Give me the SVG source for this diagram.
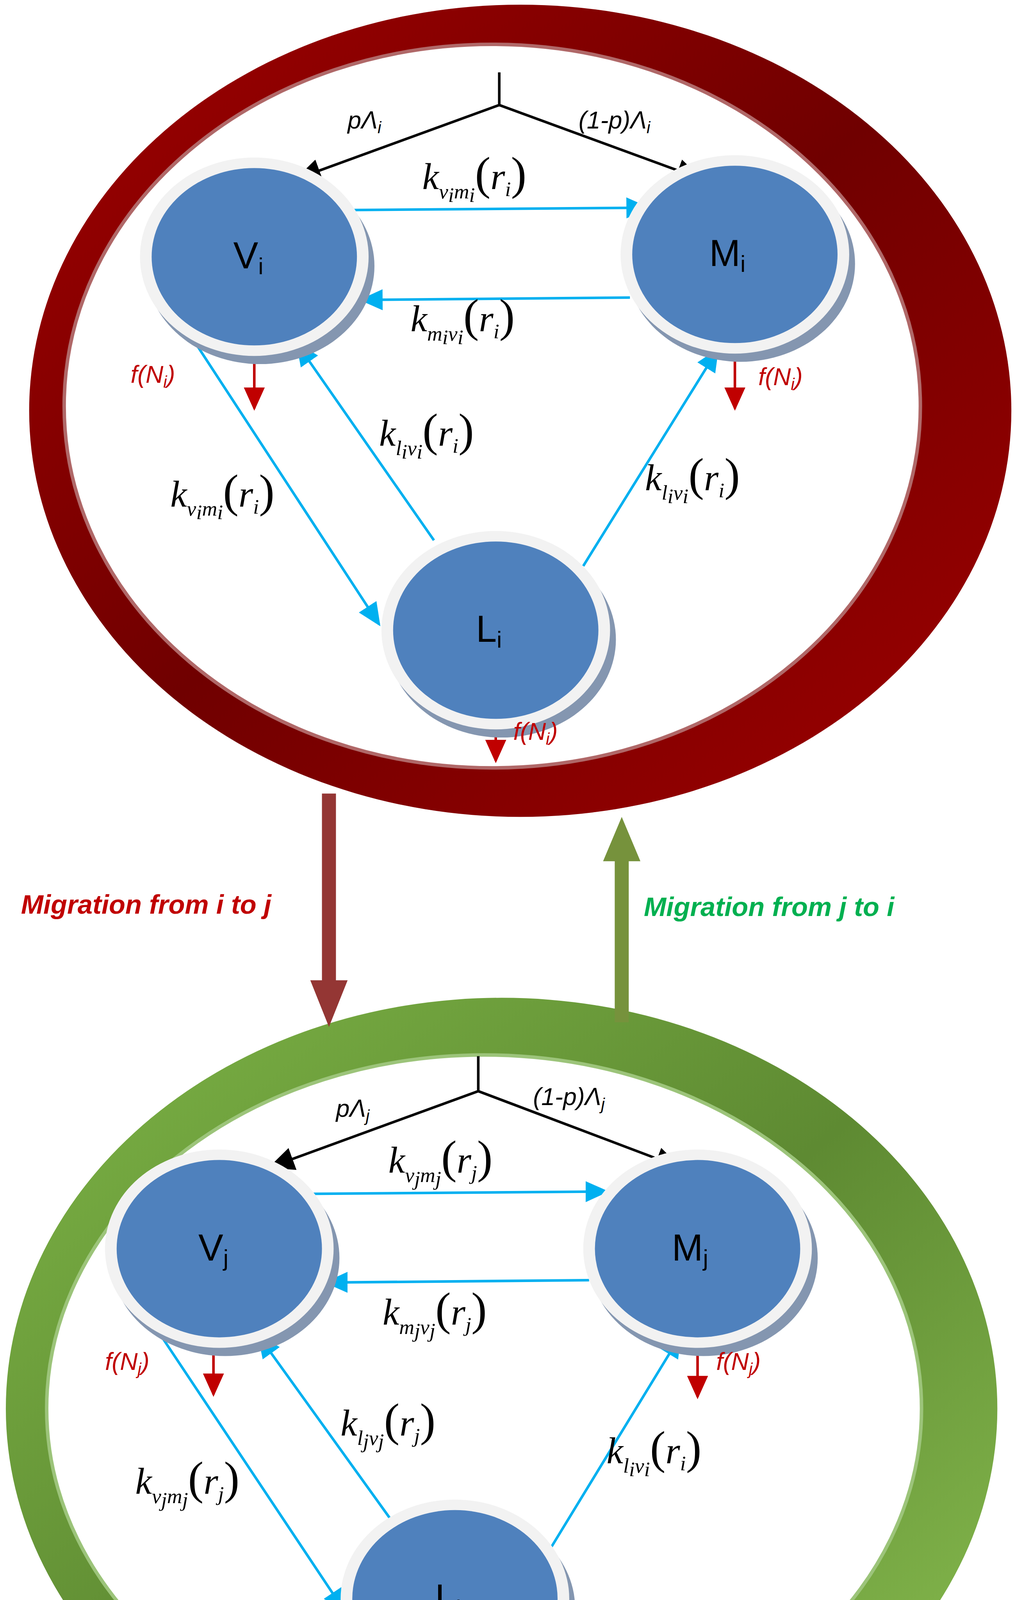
<svg xmlns="http://www.w3.org/2000/svg" width="2620" height="4683" viewBox="0 0 2620 4683">
<defs>
<linearGradient id="gr" x1="0" y1="0" x2="1" y2="1"><stop offset="0" stop-color="#a00000"/><stop offset="0.5" stop-color="#700000"/><stop offset="1" stop-color="#a00000"/></linearGradient>
<linearGradient id="gg" x1="0" y1="0" x2="1" y2="1"><stop offset="0" stop-color="#7db446"/><stop offset="0.5" stop-color="#5e8a32"/><stop offset="1" stop-color="#8cc152"/></linearGradient>
<marker id="ak" markerUnits="userSpaceOnUse" markerWidth="22" markerHeight="20" refX="20" refY="10" orient="auto"><path d="M0,0 L22,10 L0,20 Z" fill="#000"/></marker>
<marker id="ab" markerUnits="userSpaceOnUse" markerWidth="20" markerHeight="18" refX="18" refY="9" orient="auto"><path d="M0,0 L20,9 L0,18 Z" fill="#00b0f0"/></marker>
<marker id="ar" markerUnits="userSpaceOnUse" markerWidth="20" markerHeight="18" refX="18" refY="9" orient="auto"><path d="M0,0 L20,9 L0,18 Z" fill="#c00000"/></marker>
</defs>
<style>
.ring{stroke:none}
.hole{fill:#fff;stroke:#b06868;stroke-width:3}
.sh{fill:#8496b0}
.rim{fill:#f2f2f2}
.core{fill:#4f81bd}
.nl{font-family:"Liberation Sans",Arial,sans-serif;font-size:32px;fill:#000}
.nl tspan{font-size:20px}
.bk{stroke:#000;stroke-width:2.2;fill:none}
.bl{stroke:#00b0f0;stroke-width:2.2;fill:none}
.rd{stroke:#c00000;stroke-width:2.2;fill:none}
.m{font-family:"Liberation Serif","Times New Roman",serif;font-style:italic;font-size:32px;fill:#000}
.s{font-size:18px}
.p{font-size:40px;font-style:normal}
.lam{font-family:"Liberation Sans",Arial,sans-serif;font-style:italic;font-size:21px;fill:#000}
.f{font-family:"Liberation Sans",Arial,sans-serif;font-style:italic;font-size:21px;fill:#c00000}
.mig{font-family:"Liberation Sans",Arial,sans-serif;font-style:italic;font-weight:bold;font-size:23px}
</style>
<rect width="2620" height="4683" fill="#fff"/>
<g transform="scale(2.9875)">
<g id="ring-i"><ellipse class="ring" cx="446" cy="352" rx="421" ry="348" fill="url(#gr)"/><ellipse class="hole" cx="422" cy="348" rx="367" ry="310"/></g>
<g id="ring-j"><ellipse class="ring" cx="430" cy="1207" rx="425" ry="352" fill="url(#gg)"/><ellipse class="hole" cx="415" cy="1207" rx="375" ry="303" style="stroke:#9cc47a"/></g>

<g id="connectors">
<path class="bk" d="M428,62 V90 M428,90 L255,153" marker-end="url(#ak)"/>
<path class="bk" d="M428,90 L600,153" marker-end="url(#ak)"/>
<path class="bl" d="M300,180 L555,178" marker-end="url(#ab)"/>
<path class="bl" d="M540,255 L310,257" marker-end="url(#ab)"/>
<path class="bl" d="M165,290 L325,535" marker-end="url(#ab)"/>
<path class="bl" d="M372,463 L255,295" marker-end="url(#ab)"/>
<path class="bl" d="M500,485 L615,300" marker-end="url(#ab)"/>
<path class="rd" d="M218,296 V350" marker-end="url(#ar)"/>
<path class="rd" d="M630,296 V350" marker-end="url(#ar)"/>
<path class="rd" d="M425,595 V652" marker-end="url(#ar)"/>

<path class="bk" d="M410,905 V935 M410,935 L232,1000" marker-end="url(#ak)"/>
<path class="bk" d="M410,935 L582,1000" marker-end="url(#ak)"/>
<path class="bl" d="M265,1023 L520,1021" marker-end="url(#ab)"/>
<path class="bl" d="M505,1097 L280,1099" marker-end="url(#ab)"/>
<path class="bl" d="M135,1140 L295,1380" marker-end="url(#ab)"/>
<path class="bl" d="M335,1302 L222,1145" marker-end="url(#ab)"/>
<path class="bl" d="M470,1330 L583,1145" marker-end="url(#ab)"/>
<path class="rd" d="M183,1140 V1195" marker-end="url(#ar)"/>
<path class="rd" d="M598,1140 V1197" marker-end="url(#ar)"/>
<path class="rd" d="M393,1427 V1487" marker-end="url(#ar)"/>

<path d="M276,680 V840 H266 L282,880 L298,840 H288 V680 Z" fill="#943634"/>
<path d="M527,876 V738 H517 L533,700 L549,738 H539 V876 Z" fill="#76923c"/>
</g>

<g id="node-Vi"><ellipse class="sh" cx="223" cy="228" rx="98" ry="84"/><ellipse class="rim" cx="218" cy="220" rx="98" ry="85"/><ellipse class="core" cx="218" cy="220" rx="88" ry="76"/><text class="nl" x="200" y="230">V<tspan dy="5">i</tspan></text></g>
<g id="node-Mi"><ellipse class="sh" cx="635" cy="226" rx="98" ry="84"/><ellipse class="rim" cx="630" cy="218" rx="98" ry="85"/><ellipse class="core" cx="630" cy="218" rx="88" ry="76"/><text class="nl" x="608" y="228">M<tspan dy="5">i</tspan></text></g>
<g id="node-Li"><ellipse class="sh" cx="430" cy="548" rx="98" ry="84"/><ellipse class="rim" cx="425" cy="540" rx="98" ry="85"/><ellipse class="core" cx="425" cy="540" rx="88" ry="76"/><text class="nl" x="408" y="550">L<tspan dy="5">i</tspan></text></g>
<g id="node-Vj"><ellipse class="sh" cx="193" cy="1078" rx="98" ry="84"/><ellipse class="rim" cx="188" cy="1070" rx="98" ry="85"/><ellipse class="core" cx="188" cy="1070" rx="88" ry="76"/><text class="nl" x="170" y="1080">V<tspan dy="5">j</tspan></text></g>
<g id="node-Mj"><ellipse class="sh" cx="603" cy="1078" rx="98" ry="84"/><ellipse class="rim" cx="598" cy="1070" rx="98" ry="85"/><ellipse class="core" cx="598" cy="1070" rx="88" ry="76"/><text class="nl" x="576" y="1080">M<tspan dy="5">j</tspan></text></g>
<g id="node-Lj"><ellipse class="sh" cx="395" cy="1378" rx="98" ry="84"/><ellipse class="rim" cx="390" cy="1370" rx="98" ry="85"/><ellipse class="core" cx="390" cy="1370" rx="88" ry="76"/><text class="nl" x="373" y="1380">L<tspan dy="5">j</tspan></text></g>

<g id="labels">
<text class="lam" x="298" y="110">pΛ<tspan font-size="14" dy="4">i</tspan></text>
<text class="lam" x="496" y="110">(1-p)Λ<tspan font-size="14" dy="4">i</tspan></text>
<text class="m" x="362" y="162">k<tspan class="s" dy="8">v</tspan><tspan class="s" font-size="12" dy="3">i</tspan><tspan class="s" dy="-3">m</tspan><tspan class="s" font-size="12" dy="3">i</tspan><tspan class="p" dy="-11">(</tspan>r<tspan class="s" dy="6">i</tspan><tspan class="p" dy="-6">)</tspan></text>
<text class="m" x="352" y="284">k<tspan class="s" dy="8">m</tspan><tspan class="s" font-size="12" dy="3">i</tspan><tspan class="s" dy="-3">v</tspan><tspan class="s" font-size="12" dy="3">i</tspan><tspan class="p" dy="-11">(</tspan>r<tspan class="s" dy="6">i</tspan><tspan class="p" dy="-6">)</tspan></text>
<text class="m" x="146" y="434">k<tspan class="s" dy="8">v</tspan><tspan class="s" font-size="12" dy="3">i</tspan><tspan class="s" dy="-3">m</tspan><tspan class="s" font-size="12" dy="3">i</tspan><tspan class="p" dy="-11">(</tspan>r<tspan class="s" dy="6">i</tspan><tspan class="p" dy="-6">)</tspan></text>
<text class="m" x="325" y="382">k<tspan class="s" dy="8">l</tspan><tspan class="s" font-size="12" dy="3">i</tspan><tspan class="s" dy="-3">v</tspan><tspan class="s" font-size="12" dy="3">i</tspan><tspan class="p" dy="-11">(</tspan>r<tspan class="s" dy="6">i</tspan><tspan class="p" dy="-6">)</tspan></text>
<text class="m" x="553" y="420">k<tspan class="s" dy="8">l</tspan><tspan class="s" font-size="12" dy="3">i</tspan><tspan class="s" dy="-3">v</tspan><tspan class="s" font-size="12" dy="3">i</tspan><tspan class="p" dy="-11">(</tspan>r<tspan class="s" dy="6">i</tspan><tspan class="p" dy="-6">)</tspan></text>
<text class="f" x="112" y="328">f(N<tspan font-size="14" dy="4">i</tspan><tspan dy="-4">)</tspan></text>
<text class="f" x="650" y="330">f(N<tspan font-size="14" dy="4">i</tspan><tspan dy="-4">)</tspan></text>
<text class="f" x="440" y="634">f(N<tspan font-size="14" dy="4">i</tspan><tspan dy="-4">)</tspan></text>

<text class="mig" x="18" y="783" fill="#c00000">Migration from i to j</text>
<text class="mig" x="552" y="785" fill="#00b050">Migration from j to i</text>

<text class="lam" x="288" y="957">pΛ<tspan font-size="14" dy="4">j</tspan></text>
<text class="lam" x="457" y="947">(1-p)Λ<tspan font-size="14" dy="4">j</tspan></text>
<text class="m" x="333" y="1005">k<tspan class="s" dy="8">v</tspan><tspan class="s" font-size="12" dy="3">j</tspan><tspan class="s" dy="-3">m</tspan><tspan class="s" font-size="12" dy="3">j</tspan><tspan class="p" dy="-11">(</tspan>r<tspan class="s" dy="6">j</tspan><tspan class="p" dy="-6">)</tspan></text>
<text class="m" x="328" y="1135">k<tspan class="s" dy="8">m</tspan><tspan class="s" font-size="12" dy="3">j</tspan><tspan class="s" dy="-3">v</tspan><tspan class="s" font-size="12" dy="3">j</tspan><tspan class="p" dy="-11">(</tspan>r<tspan class="s" dy="6">j</tspan><tspan class="p" dy="-6">)</tspan></text>
<text class="m" x="116" y="1280">k<tspan class="s" dy="8">v</tspan><tspan class="s" font-size="12" dy="3">j</tspan><tspan class="s" dy="-3">m</tspan><tspan class="s" font-size="12" dy="3">j</tspan><tspan class="p" dy="-11">(</tspan>r<tspan class="s" dy="6">j</tspan><tspan class="p" dy="-6">)</tspan></text>
<text class="m" x="292" y="1230">k<tspan class="s" dy="8">l</tspan><tspan class="s" font-size="12" dy="3">j</tspan><tspan class="s" dy="-3">v</tspan><tspan class="s" font-size="12" dy="3">j</tspan><tspan class="p" dy="-11">(</tspan>r<tspan class="s" dy="6">j</tspan><tspan class="p" dy="-6">)</tspan></text>
<text class="m" x="520" y="1254">k<tspan class="s" dy="8">l</tspan><tspan class="s" font-size="12" dy="3">i</tspan><tspan class="s" dy="-3">v</tspan><tspan class="s" font-size="12" dy="3">i</tspan><tspan class="p" dy="-11">(</tspan>r<tspan class="s" dy="6">i</tspan><tspan class="p" dy="-6">)</tspan></text>
<text class="f" x="90" y="1174">f(N<tspan font-size="14" dy="4">j</tspan><tspan dy="-4">)</tspan></text>
<text class="f" x="614" y="1174">f(N<tspan font-size="14" dy="4">j</tspan><tspan dy="-4">)</tspan></text>
<text class="f" x="410" y="1464">f(N<tspan font-size="14" dy="4">j</tspan><tspan dy="-4">)</tspan></text>
</g>
</g>
</svg>
